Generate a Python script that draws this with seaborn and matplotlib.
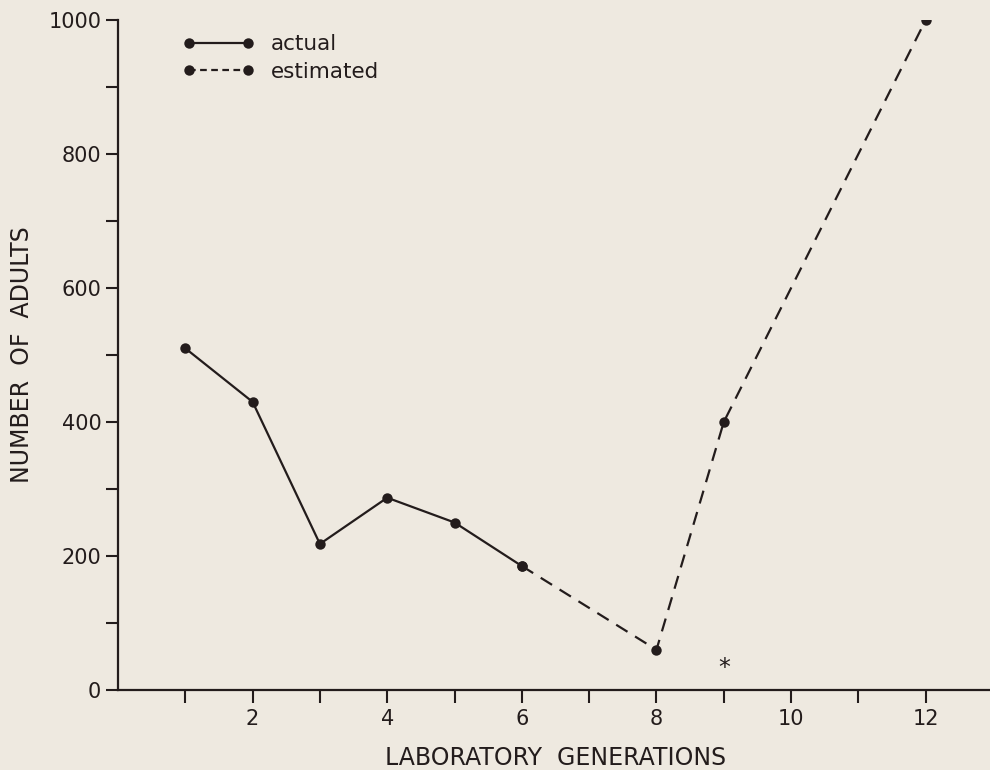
import matplotlib
matplotlib.use("Agg")
import matplotlib.pyplot as plt
import seaborn as sns
import pandas as pd
from matplotlib.lines import Line2D

# ---- data ----
actual_gen = [1, 2, 3, 4, 5, 6]
actual_adults = [510, 430, 218, 287, 250, 185]
est_gen = [6, 8, 9, 12]
est_adults = [185, 60, 400, 1000]
star_gen = 9
star_adults = 33
xtick_major = [2, 4, 6, 8, 10, 12]
xtick_labels = ["2", "4", "6", "8", "10", "12"]
xtick_minor = [1, 3, 5, 7, 9, 11, 13]
ytick_major = [0, 200, 400, 600, 800, 1000]
ytick_labels = ["0", "200", "400", "600", "800", "1000"]
ytick_minor = [100, 300, 500, 700, 900]

bg = "#EEE9E0"
ink = "#231c1c"

sns.set_theme(style="ticks")
plt.rcParams["font.family"] = ["DejaVu Sans"]

fig = plt.figure(figsize=(9.9, 7.7), dpi=100, facecolor=bg)
ax = fig.add_axes([118 / 990, 80 / 770, 875 / 990, 670 / 770])
ax.set_facecolor(bg)

df_a = pd.DataFrame({"gen": actual_gen, "adults": actual_adults})
df_e = pd.DataFrame({"gen": est_gen, "adults": est_adults})

sns.lineplot(data=df_a, x="gen", y="adults", ax=ax, color=ink, lw=1.6,
             marker="o", markersize=7.5, markeredgewidth=0, sort=False)
sns.lineplot(data=df_e, x="gen", y="adults", ax=ax, color=ink, lw=1.6,
             marker="o", markersize=7.5, markeredgewidth=0, sort=False,
             dashes=False, linestyle=(0, (6.0, 4.0)))

ax.text(star_gen, star_adults, "*", ha="center", va="center",
        fontsize=17, color=ink)

ax.set_xlim(0, 13)
ax.set_ylim(0, 1000)
ax.set_xticks(xtick_major)
ax.set_xticklabels(xtick_labels)
ax.set_xticks(xtick_minor, minor=True)
ax.set_yticks(ytick_major)
ax.set_yticklabels(ytick_labels)
ax.set_yticks(ytick_minor, minor=True)

for which in ("major", "minor"):
    ax.tick_params(axis="both", which=which, direction="out", length=9,
                   width=1.5, color=ink, labelsize=15, labelcolor=ink, pad=3)
ax.tick_params(axis="x", which="major", pad=5)

for s in ("top", "right"):
    ax.spines[s].set_visible(False)
for s in ("left", "bottom"):
    ax.spines[s].set_color(ink)
    ax.spines[s].set_linewidth(1.6)

ax.set_xlabel("LABORATORY  GENERATIONS", fontsize=17, color=ink, labelpad=12)
ax.set_ylabel("NUMBER  OF  ADULTS", fontsize=17, color=ink, labelpad=10)

handles = [
    Line2D([], [], color=ink, lw=1.6, marker="o", markersize=7.5, markeredgewidth=0),
    Line2D([], [], color=ink, lw=1.6, marker="o", markersize=7.5, markeredgewidth=0,
           linestyle=(0, (3.0, 2.0))),
]
ax.legend(handles, ["actual", "estimated"], loc="upper left",
          bbox_to_anchor=(0.074, 0.979), frameon=False, fontsize=15.5,
          handlelength=3.35, handletextpad=0.75, labelspacing=0.35,
          borderpad=0, borderaxespad=0, numpoints=2, labelcolor=ink)

fig.savefig("out.png", dpi=100, facecolor=bg)
